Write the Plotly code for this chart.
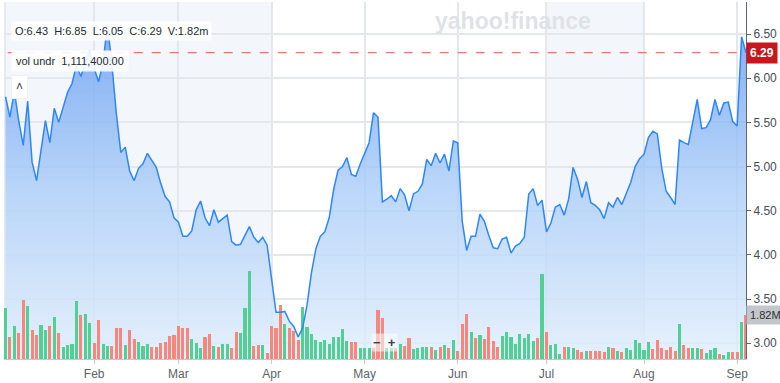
import pandas as pd
import plotly.graph_objects as go

# ---------------- data ----------------
holidays = ["2025-01-01", "2025-01-09", "2025-01-20", "2025-02-17", "2025-04-18",
            "2025-05-26", "2025-06-19", "2025-07-04", "2025-09-01"]

close = [
    5.79, 5.56, 5.85, 5.51, 5.24, 5.74, 5.05, 4.84, 5.18, 5.52,
    5.27, 5.66, 5.50, 5.68, 5.84, 5.94, 6.15, 6.02, 6.18, 6.31,
    6.11, 5.96, 6.18, 6.61, 6.15, 5.60, 5.16, 5.22, 4.95, 4.84,
    4.98, 5.03, 5.15, 5.07, 4.99, 4.81, 4.66, 4.60, 4.42, 4.37,
    4.21, 4.21, 4.27, 4.51, 4.61, 4.42, 4.33, 4.51, 4.37, 4.41,
    4.45, 4.15, 4.11, 4.12, 4.23, 4.32, 4.20, 4.14, 4.20, 4.11,
    3.73, 3.35, 3.35, 3.36, 3.25, 3.19, 3.07, 3.17, 3.43, 3.80,
    4.07, 4.21, 4.26, 4.42, 4.74, 4.96, 5.00, 5.10, 4.91, 4.89,
    5.03, 5.14, 5.27, 5.61, 5.56, 4.60, 4.63, 4.67, 4.60, 4.75,
    4.68, 4.50, 4.69, 4.72, 4.80, 5.08, 5.01, 5.15, 5.04, 5.14,
    4.95, 5.29, 5.27, 4.38, 4.05, 4.21, 4.21, 4.46, 4.38, 4.22,
    4.08, 4.07, 4.18, 4.20, 4.02, 4.10, 4.13, 4.20, 4.69, 4.75,
    4.56, 4.62, 4.26, 4.36, 4.54, 4.57, 4.45, 4.63, 4.99, 4.86,
    4.65, 4.83, 4.59, 4.56, 4.51, 4.41, 4.59, 4.54, 4.65, 4.57,
    4.70, 4.82, 5.00, 5.09, 5.14, 5.33, 5.40, 5.37, 4.98, 4.72,
    4.65, 4.57, 5.30, 5.27, 5.25, 5.51, 5.76, 5.43, 5.44, 5.53,
    5.76, 5.58, 5.72, 5.73, 5.51, 5.46, 6.47, 6.29,
]

volume_m = [
    2.09, 0.90, 1.35, 1.05, 2.40, 2.18, 1.19, 0.98, 1.40, 1.19,
    1.37, 1.70, 1.05, 0.51, 0.59, 0.62, 2.39, 1.79, 1.83, 1.47,
    0.65, 1.60, 0.61, 0.55, 0.53, 1.25, 1.28, 0.58, 1.19, 0.81,
    0.70, 0.55, 0.61, 0.51, 0.51, 0.67, 0.70, 0.94, 0.98, 1.37,
    1.27, 1.28, 0.81, 0.65, 0.44, 0.88, 1.01, 0.55, 0.50, 0.61,
    0.63, 0.47, 1.09, 1.06, 2.09, 3.61, 0.55, 0.57, 0.58, 0.26,
    1.35, 1.25, 2.21, 1.42, 1.25, 1.15, 0.77, 2.12, 1.29, 1.02,
    0.78, 0.70, 0.77, 0.61, 0.90, 0.92, 1.23, 0.73, 0.71, 0.70,
    0.43, 0.43, 0.43, 0.44, 2.00, 1.67, 0.43, 0.43, 0.43, 0.63,
    0.54, 0.86, 0.42, 0.47, 0.51, 0.51, 0.50, 0.38, 0.51, 0.57,
    0.47, 0.77, 0.34, 1.44, 1.86, 1.12, 0.84, 0.98, 0.80, 1.29,
    0.74, 0.51, 0.93, 1.11, 0.90, 0.63, 1.02, 0.86, 1.02, 0.73,
    0.86, 3.48, 1.09, 0.57, 0.61, 0.22, 0.51, 0.51, 0.44, 0.36,
    0.27, 0.32, 0.34, 0.34, 0.31, 0.28, 0.49, 0.46, 0.34, 0.28,
    0.47, 0.38, 0.77, 0.67, 0.36, 0.69, 0.39, 0.77, 0.47, 0.36,
    0.51, 0.31, 1.42, 0.57, 0.43, 0.44, 0.43, 0.40, 0.26, 0.36,
    0.44, 0.22, 0.16, 0.27, 0.27, 0.27, 1.50, 1.82,
]

# g = up day (green bar), r = down day (red bar)
direction = list(
    "grgrrgrrgg" "rgrggggrgg" "rrggrrrgrr" "gggrrrrrrr" "rrgggrrgrg"
    "grrgggrrgr" "rrrgrrrggg" "ggggggggrr" "gggrrrg"
    "grgrrggggr" "grgrgrrrgr" "grrrrggggg" "gggrgrgggr" "ggrrgrrrrg"
    "rgrggggggr" "rrrrrgrrgg" "rgggrggrrg" "r"
)

price_ticks = [3.0, 3.5, 4.0, 4.5, 5.0, 5.5, 6.0, 6.5]
price_labels = ["3.00", "3.50", "4.00", "4.50", "5.00", "5.50", "6.00", "6.50"]
month_labels = ["Feb", "Mar", "Apr", "May", "Jun", "Jul", "Aug", "Sep"]

last_close = 6.29
last_volume = 1.82
ohlc_text = "O:6.43  H:6.85  L:6.05  C:6.29  V:1.82m"
vol_text = "vol undr  1,111,400.00"

# ---------------- derived axis positions ----------------
dates = pd.bdate_range("2025-01-02", periods=len(close), freq="C", holidays=holidays)
idx = list(range(len(close)))
month_starts = []
for i in range(1, len(dates)):
    if dates[i].month != dates[i - 1].month:
        month_starts.append(i)

direction = (direction + ["g"] * len(close))[:len(close)]
bar_colors = ["#52cf94" if d == "g" else "#f7877d" for d in direction]

x_lo, x_hi = -0.34, len(close) - 1.0
y_lo, y_hi = 2.821, 6.863
vol_hi = 14.6

fig = go.Figure()

fig.add_trace(go.Scatter(
    x=idx, y=close, mode="lines", line=dict(width=0), fill="tozeroy",
    fillgradient=dict(type="vertical",
                      colorscale=[[0, "rgba(226,239,252,0.8)"],
                                  [0.5, "rgba(170,205,248,0.8)"],
                                  [1, "rgba(95,152,241,0.8)"]],
                      start=y_lo, stop=6.7),
    hoverinfo="skip", showlegend=False, yaxis="y"))

fig.add_trace(go.Bar(
    x=idx, y=volume_m, marker=dict(color=bar_colors, line=dict(width=0)),
    width=0.7, yaxis="y2", showlegend=False, hoverinfo="skip"))

fig.add_trace(go.Scatter(
    x=idx, y=close, mode="lines", line=dict(color="#2f86f6", width=1.5),
    yaxis="y3", showlegend=False, hoverinfo="skip"))

shapes = [
    dict(type="rect", xref="x", yref="paper", x0=x_lo, x1=month_starts[2], y0=0, y1=1,
         fillcolor="#f3f6fa", line=dict(width=0), layer="below"),
    dict(type="rect", xref="x", yref="paper", x0=month_starts[5], x1=month_starts[6], y0=0, y1=1,
         fillcolor="#f3f6fa", line=dict(width=0), layer="below"),
    dict(type="line", xref="x", yref="paper", x0=-0.1, x1=-0.1, y0=0, y1=1,
         line=dict(color="#e3e7ec", width=1.5), layer="below"),
    dict(type="line", xref="paper", yref="y", x0=0.005, x1=1, y0=last_close, y1=last_close,
         line=dict(color="rgba(226,88,88,0.8)", width=1.3, dash="dash")),
]

font_family = "Liberation Sans, Arial, sans-serif"
annotations = [
    dict(text="<b>yahoo!finance</b>", xref="paper", yref="paper", x=0.686, y=0.948,
         xanchor="center", yanchor="middle", showarrow=False,
         font=dict(size=23, color="#dfe2e7", family=font_family)),
    dict(text=ohlc_text, xref="paper", yref="paper", x=0.010, y=0.918,
         xanchor="left", yanchor="middle", showarrow=False,
         bgcolor="rgba(255,255,255,0.9)", borderpad=3,
         font=dict(size=11, color="#232a31", family=font_family)),
    dict(text=vol_text, xref="paper", yref="paper", x=0.010, y=0.834,
         xanchor="left", yanchor="middle", showarrow=False,
         bgcolor="rgba(255,255,255,0.9)", borderpad=4,
         font=dict(size=11, color="#232a31", family=font_family)),
    dict(text="˄", xref="paper", yref="paper", x=0.009, y=0.762,
         xanchor="left", yanchor="middle", showarrow=False,
         bgcolor="white", bordercolor="#eef0f3", borderwidth=1, borderpad=4,
         font=dict(size=12, color="#3a4148", family=font_family)),
    dict(text="<b>−  +</b>", xref="x", yref="paper", x=85.5, y=0.045,
         xanchor="center", yanchor="middle", showarrow=False,
         bgcolor="rgba(255,255,255,0.55)", borderpad=1,
         font=dict(size=13, color="#3a4148", family=font_family)),
    dict(text="<b>%.2f</b>" % last_close, xref="paper", yref="y", x=1, y=last_close,
         xanchor="left", yanchor="middle", showarrow=False,
         bgcolor="#c8161d", borderpad=3,
         font=dict(size=12, color="white", family=font_family)),
    dict(text="%.2fM" % last_volume, xref="paper", yref="y2", x=1, y=last_volume,
         xanchor="left", yanchor="middle", showarrow=False,
         bgcolor="#c3c7cc", borderpad=3,
         font=dict(size=11, color="#2b3036", family=font_family)),
]

fig.update_layout(
    width=780, height=383,
    margin=dict(l=4, r=34, t=2, b=20),
    paper_bgcolor="white", plot_bgcolor="white",
    showlegend=False, bargap=0,
    font=dict(family=font_family),
    shapes=shapes, annotations=annotations,
    xaxis=dict(range=[x_lo, x_hi], tickmode="array", tickvals=month_starts,
               ticktext=month_labels[:len(month_starts)],
               showgrid=True, gridcolor="#e4e8ed", gridwidth=1.5,
               ticks="outside", ticklen=4, tickcolor="#c8ccd1",
               showline=True, linecolor="#c3c7cc", linewidth=1,
               zeroline=False, tickfont=dict(size=12, color="#5b636a")),
    yaxis=dict(range=[y_lo, y_hi], side="right", tickmode="array",
               tickvals=price_ticks, ticktext=price_labels,
               showgrid=True, gridcolor="#e4e8ed", gridwidth=1.5,
               ticks="outside", ticklen=4, tickcolor="#5f666d",
               showline=True, linecolor="#5f666d", linewidth=1,
               zeroline=False, tickfont=dict(size=12, color="#464e56")),
    yaxis2=dict(range=[0, vol_hi], overlaying="y", visible=False),
    yaxis3=dict(range=[y_lo, y_hi], overlaying="y", visible=False),
)

fig.write_html("out.html")
